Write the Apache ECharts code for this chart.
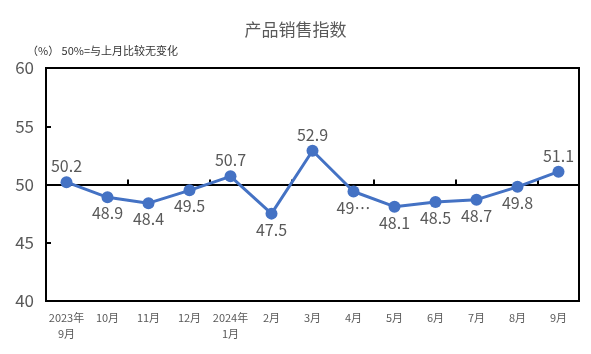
<!DOCTYPE html>
<html><head><meta charset="utf-8">
<script src="https://cdn.jsdelivr.net/npm/echarts@6/dist/echarts.min.js"></script>
<style>html,body{margin:0;padding:0;background:#fff}#c{width:591px;height:354px}</style>
</head><body><div id="c"></div>
<script>
const categories = ['2023年\n9月','10月','11月','12月','2024年\n1月','2月','3月','4月','5月','6月','7月','8月','9月'];
const values = [50.2,48.9,48.4,49.5,50.7,47.5,52.9,49.4,48.1,48.5,48.7,49.8,51.1];
const labelTexts = ['50.2','48.9','48.4','49.5','50.7','47.5','52.9','49…','48.1','48.5','48.7','49.8','51.1'];
const labelPos = ['top','bottom','bottom','bottom','top','bottom','top','bottom','bottom','bottom','bottom','bottom','top'];
const yTicks = [40,45,50,55,60];

const FF = '"Noto Sans CJK SC", "Noto Sans", sans-serif';
const chart = echarts.init(document.getElementById('c'));
chart.setOption({
  animation:false,
  title:[
    {text:'产品销售指数', left:'center', top:16, textStyle:{fontSize:17, fontWeight:'normal', color:'#595959', fontFamily:FF}},
    {text:'（%） 50%=与上月比较无变化', left:22, top:40, textStyle:{fontSize:11, fontWeight:'normal', color:'#333', fontFamily:FF}}
  ],
  grid:{left:46, right:12, top:68, bottom:53, show:true, borderColor:'#000', borderWidth:2, containLabel:false},
  xAxis:[
    {type:'category', data:categories, boundaryGap:true,
     axisLine:{show:true, lineStyle:{color:'#000', width:2}},
     axisTick:{show:false},
     axisLabel:{interval:0, color:'#595959', fontSize:11, fontFamily:FF, margin:9, lineHeight:16}},
    {type:'category', data:categories, boundaryGap:true, position:'bottom', offset:-116.5,
     axisLine:{show:true, lineStyle:{color:'#000', width:2}},
     axisTick:{show:true, inside:true, length:5, lineStyle:{color:'#000', width:2}},
     axisLabel:{show:false}}
  ],
  yAxis:{type:'value', min:40, max:60, interval:5,
    axisLine:{show:true, lineStyle:{color:'#000', width:2}},
    axisTick:{show:true, inside:true, length:5, lineStyle:{color:'#000', width:2}},
    splitLine:{show:false},
    axisLabel:{color:'#595959', fontSize:17, fontFamily:FF, margin:12,
      formatter:v=> yTicks.includes(v)? String(v):''}},
  series:[{
    type:'line', xAxisIndex:0,
    data: values.map((v,i)=>({value:v, label:{position:labelPos[i]}})),
    symbol:'circle', symbolSize:12,
    lineStyle:{color:'#4472C4', width:3},
    itemStyle:{color:'#4472C4'},
    label:{show:true, fontSize:16, color:'#595959', fontFamily:FF, distance:2,
      formatter:p=>labelTexts[p.dataIndex]}
  }]
});
</script></body></html>
